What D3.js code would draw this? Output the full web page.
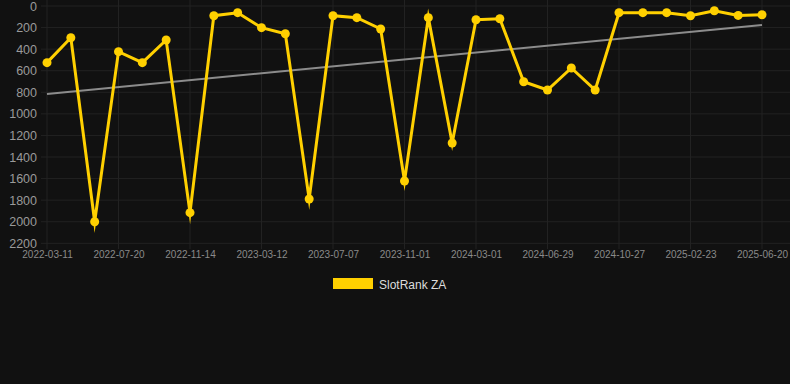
<!DOCTYPE html>
<html><head><meta charset="utf-8">
<script src="https://cdn.jsdelivr.net/npm/d3@7"></script>
<style>
html,body{margin:0;padding:0;background:#111111;}
svg{display:block;font-family:"Liberation Sans",Arial,Helvetica,sans-serif;}
</style></head>
<body><svg id="c" width="790" height="384"></svg>
<script>
const dates = ["2022-03-11","2022-04-24","2022-06-07","2022-07-20","2022-08-28","2022-10-06","2022-11-14","2022-12-23","2023-01-31","2023-03-12","2023-04-20","2023-05-29","2023-07-07","2023-08-15","2023-09-23","2023-11-01","2023-12-11","2024-01-20","2024-03-01","2024-04-09","2024-05-19","2024-06-29","2024-08-07","2024-09-17","2024-10-27","2024-12-05","2025-01-14","2025-02-23","2025-04-03","2025-05-12","2025-06-20"];
const ranks = [525,294,2000,423,525,315,1916,90,62,201,257,1789,90,108,213,1622,108,1270,127,118,702,779,575,779,62,62,62,90,44,87,81];
const yTicks = [0,200,400,600,800,1000,1200,1400,1600,1800,2000,2200];
const seriesName = "SlotRank ZA";

const svg = d3.select("#c");
const W = 790, H = 384;
svg.append("rect").attr("width",W).attr("height",H).attr("fill","#111111");

const x = d3.scalePoint().domain(dates).range([47, 762]);
const y = d3.scaleLinear().domain([0, 2200]).range([6, 243.3]);
const labelDates = dates.filter((d,i)=> i % 3 === 0);

// grid
const g = svg.append("g");
g.selectAll(".hg").data(yTicks).join("line")
  .attr("x1", 41).attr("x2", 790).attr("y1", d=>y(d)).attr("y2", d=>y(d))
  .attr("stroke", "#222222").attr("stroke-width", 1);
g.selectAll(".vg").data(labelDates).join("line")
  .attr("x1", d=>x(d)).attr("x2", d=>x(d)).attr("y1", 0).attr("y2", 249)
  .attr("stroke", "#222222").attr("stroke-width", 1);

// y axis
const yAxis = d3.axisLeft(y).tickValues(yTicks).tickFormat(d3.format("d")).tickSize(0).tickPadding(0);
const ya = svg.append("g").attr("transform","translate(37,0)").call(yAxis);
ya.select(".domain").remove();
ya.selectAll("text").attr("fill","#9a9a9a").attr("font-size","12.5px").attr("font-family","Liberation Sans, Arial, sans-serif");

// x axis
const xAxis = d3.axisBottom(x).tickValues(labelDates).tickSize(0).tickPadding(0);
const xa = svg.append("g").attr("transform","translate(0,251)").call(xAxis);
xa.select(".domain").remove();
xa.selectAll("text").attr("fill","#8a8a8a").attr("font-size","10px").attr("font-family","Liberation Sans, Arial, sans-serif");

// trend (least squares)
const n = ranks.length;
const idx = d3.range(n);
const mx = d3.mean(idx), my = d3.mean(ranks);
const slope = d3.sum(idx, i => (i-mx)*(ranks[i]-my)) / d3.sum(idx, i => (i-mx)*(i-mx));
const icpt = my - slope*mx;
svg.append("line")
  .attr("x1", x(dates[0])).attr("y1", y(icpt))
  .attr("x2", x(dates[n-1])).attr("y2", y(icpt + slope*(n-1)))
  .attr("stroke","#8c8c8c").attr("stroke-width",2);

// series line
const line = d3.line().x((d,i)=>x(dates[i])).y(d=>y(d));
svg.append("path").datum(ranks).attr("d", line)
  .attr("fill","none").attr("stroke","#ffd000").attr("stroke-width",3)
  .attr("stroke-linejoin","miter").attr("stroke-miterlimit",10);

svg.selectAll(".pt").data(ranks).join("circle")
  .attr("cx",(d,i)=>x(dates[i])).attr("cy",d=>y(d)).attr("r",4.5)
  .attr("fill","#ffd000");

// legend
svg.append("rect").attr("x",333).attr("y",278).attr("width",40).attr("height",11).attr("fill","#ffd000");
svg.append("text").attr("x",379).attr("y",288.5).text(seriesName)
  .attr("fill","#dddddd").attr("font-size","12px");
</script></body></html>
